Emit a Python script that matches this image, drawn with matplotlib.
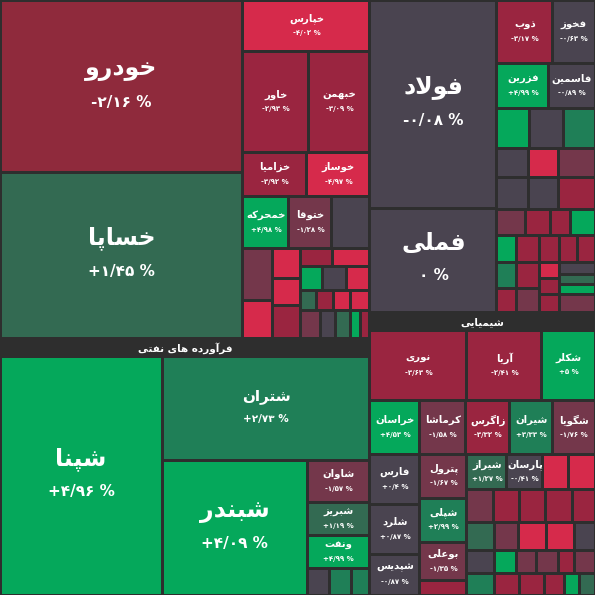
import matplotlib
matplotlib.use("Agg")
import matplotlib.pyplot as plt
from matplotlib.patches import Rectangle

# ---------- Persian shaping (no external libs) ----------
FORMS = {
 'ا':(0xFE8D,0xFE8E,None,None),'آ':(0xFE81,0xFE82,None,None),
 'ب':(0xFE8F,0xFE90,0xFE91,0xFE92),'پ':(0xFB56,0xFB57,0xFB58,0xFB59),
 'ت':(0xFE95,0xFE96,0xFE97,0xFE98),'ج':(0xFE9D,0xFE9E,0xFE9F,0xFEA0),
 'ح':(0xFEA1,0xFEA2,0xFEA3,0xFEA4),'خ':(0xFEA5,0xFEA6,0xFEA7,0xFEA8),
 'د':(0xFEA9,0xFEAA,None,None),'ذ':(0xFEAB,0xFEAC,None,None),
 'ر':(0xFEAD,0xFEAE,None,None),'ز':(0xFEAF,0xFEB0,None,None),
 'س':(0xFEB1,0xFEB2,0xFEB3,0xFEB4),'ش':(0xFEB5,0xFEB6,0xFEB7,0xFEB8),
 'ط':(0xFEC1,0xFEC2,0xFEC3,0xFEC4),'ع':(0xFEC9,0xFECA,0xFECB,0xFECC),
 'ف':(0xFED1,0xFED2,0xFED3,0xFED4),'ق':(0xFED5,0xFED6,0xFED7,0xFED8),
 'ک':(0xFB8E,0xFB8F,0xFB90,0xFB91),'گ':(0xFB92,0xFB93,0xFB94,0xFB95),
 'ل':(0xFEDD,0xFEDE,0xFEDF,0xFEE0),'م':(0xFEE1,0xFEE2,0xFEE3,0xFEE4),
 'ن':(0xFEE5,0xFEE6,0xFEE7,0xFEE8),'و':(0xFEED,0xFEEE,None,None),
 'ه':(0xFEE9,0xFEEA,0xFEEB,0xFEEC),'ی':(0xFBFC,0xFBFD,0xFBFE,0xFBFF),
}
def shape_word(w):
    chars = list(w)
    out = []
    i = 0
    n = len(chars)
    def joins_next(c):
        return c in FORMS and FORMS[c][2] is not None
    while i < n:
        c = chars[i]
        prev = chars[i-1] if i > 0 else None
        pj = prev is not None and joins_next(prev)
        if c == 'ل' and i+1 < n and chars[i+1] == 'ا':
            out.append(chr(0xFEFC if pj else 0xFEFB)); i += 2; continue
        if c not in FORMS:
            out.append(c); i += 1; continue
        nxt = chars[i+1] if i+1 < n else None
        nj = nxt is not None and nxt in FORMS and FORMS[c][2] is not None
        f = FORMS[c]
        if pj and nj: ch = f[3]
        elif pj: ch = f[1]
        elif nj: ch = f[2]
        else: ch = f[0]
        out.append(chr(ch)); i += 1
    return ''.join(out)
def fa(s):
    return ' '.join(shape_word(w)[::-1] for w in s.split(' ')[::-1])

# ---------- colours ----------
C = {'R':'#d62a4b','M':'#9a2540','P':'#74374b','G':'#4a4450',
     'D':'#336a52','MG':'#1f7f57','B':'#05a85b','K':'#8f2a3c'}

# ---------- data (name, change label, weight ~ market value, colour key) ----------
def L(w, c, name='', pct='', size='s'):
    return ('leaf', w, c, name, pct, size)
def H(*ch): return ('h', list(ch))
def V(*ch): return ('v', list(ch))
def Gp(title, hw, child): return ('g', title, hw, child)

auto_col_a = V(L(41796,'K','خودرو','-۲/۱۶ %','b'), L(40338,'D','خساپا','+۱/۴۵ %','b'))
auto_col_b = V(
    L(6477,'R','خپارس','-۴/۰۲ %'),
    H(L(6666,'M','خاور','-۲/۹۳ %'), L(6161,'M','خبهمن','-۳/۰۹ %')),
    H(L(2816,'M','خزامیا','-۳/۹۲ %'), L(2772,'R','خوساز','-۴/۹۷ %')),
    H(L(2392,'B','خمحرکه','+۴/۹۸ %'), L(2236,'P','ختوقا','-۱/۲۸ %'), L(1976,'G')),
    H(V(L(1560,'P'), L(1140,'R')),
      V(L(840,'R'), L(756,'R'), L(924,'M')),
      V(H(L(576,'M'), L(666,'R')),
        H(L(528,'B'), L(576,'G'), L(552,'R')),
        H(L(320,'D'), L(340,'M'), L(340,'R'), L(380,'R')),
        H(L(560,'P'), L(400,'G'), L(420,'D'), L(300,'B'), L(252,'M')))),
)
oil = Gp('فرآورده های نفتی', 6660, H(
    L(38718,'B','شپنا','+۴/۹۶ %','b'),
    V(L(21632,'MG','شتران','+۲/۷۳ %','m'),
      H(L(19575,'B','شبندر','+۴/۰۹ %','b'),
        V(L(2646,'P','شاوان','-۱/۵۷ %'), L(2079,'D','شبریز','+۱/۱۹ %'),
          L(2079,'B','ونفت','+۴/۹۹ %'),
          H(L(600,'G'), L(600,'MG'), L(500,'MG')))))))
metal = H(
    V(L(26416,'G','فولاد','-۰/۰۸ %','b'), L(13208,'G','فملی','۰ %','b')),
    V(H(L(3528,'M','ذوب','-۳/۱۷ %'), L(2646,'G','فخوز','-۰/۶۳ %')),
      H(L(2340,'B','فزرین','+۴/۹۹ %'), L(2070,'G','فاسمین','-۰/۸۹ %')),
      H(L(1320,'B'), L(1360,'G'), L(1240,'MG')),
      H(L(928,'G'), L(870,'R'), L(1044,'P')),
      H(L(1024,'G'), L(960,'G'), L(1152,'M')),
      H(L(754,'P'), L(650,'M'), L(520,'M'), L(624,'B')),
      H(L(540,'B'), L(621,'M'), L(540,'M'), L(486,'M'), L(459,'M')),
      H(V(L(520,'MG'), L(480,'M')), V(L(598,'M'), L(552,'P')),
        V(L(320,'R'), L(320,'M'), L(360,'M')),
        V(L(420,'G'), L(350,'D'), L(350,'B'), L(630,'P')))))
chem = Gp('شیمیایی', 4050, V(
    H(L(6790,'M','نوری','-۳/۶۳ %'), L(5250,'M','آریا','-۲/۴۱ %'), L(3710,'B','شکلر','+۵ %')),
    H(L(2700,'B','خراسان','+۴/۵۳ %'), L(2484,'P','کرماشا','-۱/۵۸ %'), L(2376,'M','زاگرس','-۳/۳۲ %'),
      L(2322,'MG','شیران','+۳/۳۳ %'), L(2268,'P','شگویا','-۱/۷۶ %')),
    H(V(L(2500,'G','فارس','+۰/۴ %'), L(2500,'G','شلرد','+۰/۸۷ %'), L(2050,'G','شپدیس','-۰/۸۷ %')),
      V(L(2068,'P','پترول','-۱/۶۷ %'), L(2068,'MG','شپلی','+۲/۹۹ %'), L(1786,'P','بوعلی','-۱/۳۵ %'), L(705,'M')),
      V(H(L(1400,'D','شیراز','+۱/۲۷ %'), L(1260,'G','پارسان','-۰/۴۱ %'), L(910,'R'), L(910,'R')),
        H(L(891,'P'), L(858,'M'), L(858,'M'), L(891,'M'), L(726,'M')),
        H(L(784,'D'), L(672,'P'), L(784,'R'), L(784,'R'), L(560,'G')),
        H(L(644,'G'), L(506,'B'), L(460,'P'), L(506,'P'), L(368,'M'), L(460,'P')),
        H(L(616,'MG'), L(550,'M'), L(550,'M'), L(440,'M'), L(330,'B'), L(330,'D'))))))
tree = H(V(H(auto_col_a, auto_col_b), oil), V(metal, chem))

# ---------- layout ----------
def weight(n):
    t = n[0]
    if t == 'leaf': return n[1]
    if t == 'g': return n[2] + weight(n[3])
    return sum(weight(c) for c in n[1])

BG = '#2e2e2e'
fig = plt.figure(figsize=(5.95, 5.95), dpi=100)
fig.patch.set_facecolor(BG)
ax = fig.add_axes([0, 0, 1, 1])
ax.set_xlim(0, 595); ax.set_ylim(595, 0); ax.axis('off')
FONT = 'DejaVu Sans'
GAP = 1.5
STYLE = {'b': (17, 11, -17, 16), 'm': (11, 7.5, -12, 11), 's': (7.3, 5, -7, 7.5)}

def draw(n, x, y, w, h):
    t = n[0]
    if t == 'leaf':
        _, wt, c, name, pct, size = n
        ax.add_patch(Rectangle((x+GAP, y+GAP), w-2*GAP, h-2*GAP, facecolor=C[c], edgecolor='none'))
        if name:
            ns, ps, no, po = STYLE[size]
            ax.text(x+w/2, y+h/2 + no, fa(name), color='white', fontsize=ns, fontweight='bold',
                    family=FONT, ha='center', va='center')
            ax.text(x+w/2, y+h/2 + po, pct, color='white', fontsize=ps, fontweight='bold',
                    family=FONT, ha='center', va='center')
        return
    if t == 'g':
        _, title, hw, child = n
        hh = h * hw / weight(n)
        ax.text(x+w/2, y+hh/2+1, fa(title), color='white', fontsize=7.5, fontweight='bold',
                family=FONT, ha='center', va='center')
        draw(child, x, y+hh, w, h-hh)
        return
    tot = sum(weight(c) for c in n[1])
    pos = 0.0
    for c in n[1]:
        f = weight(c) / tot
        if t == 'h':
            draw(c, x + pos*w, y, f*w, h)
        else:
            draw(c, x, y + pos*h, w, f*h)
        pos += f

draw(tree, 0, 0, 595, 595)
fig.savefig('out.png', dpi=100, facecolor=BG)
